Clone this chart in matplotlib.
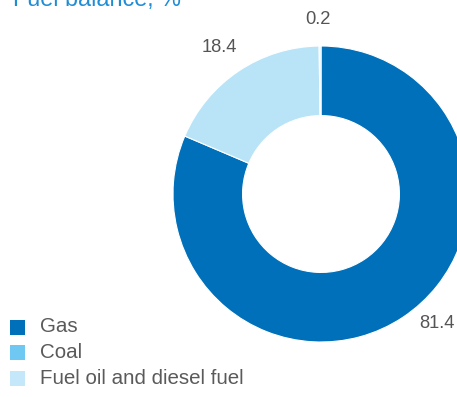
import matplotlib.pyplot as plt
from matplotlib.patches import Rectangle

plt.rcParams['font.family'] = ['Liberation Sans', 'DejaVu Sans']

W, H = 457, 397

fuels = ['Gas', 'Coal', 'Fuel oil and diesel fuel']
shares = [81.4, 18.4, 0.2]
wedge_colors = ['#0070ba', '#b9e4f8', '#dcf1fb']
legend_colors = ['#0070ba', '#6fc8f2', '#c4e7fa']
# label anchor points in axes data units
label_pos = [(0.78, -0.875), (-0.69, 0.988), (-0.02, 1.178)]


def main():
    fig = plt.figure(figsize=(W / 100, H / 100), dpi=100)
    ax = fig.add_axes([173 / W, 55 / H, 296 / W, 296 / H])

    ax.pie(shares, colors=wedge_colors, startangle=90, counterclock=False,
           radius=1, wedgeprops=dict(width=0.47, edgecolor='white', linewidth=0.8))
    ax.set_xlim(-1, 1)
    ax.set_ylim(-1, 1)
    ax.set_aspect('equal')
    ax.axis('off')

    for val, (x, y) in zip(shares, label_pos):
        ax.text(x, y, f'{val:.1f}', ha='center', va='center',
                fontsize=13.2, color='#555555', clip_on=False)

    fig.text(13 / W, 1 - 6 / H, 'Fuel balance, %', fontsize=16.8,
             color='#1f8dd6', ha='left', va='baseline')

    # legend drawn by hand, one row per fuel
    for i, (name, col) in enumerate(zip(fuels, legend_colors)):
        yc = 327 + i * 25.5
        fig.add_artist(Rectangle((10 / W, 1 - (yc + 7.5) / H), 15 / W, 15 / H,
                                 transform=fig.transFigure, color=col, lw=0))
        fig.text(40 / W, 1 - yc / H, name, fontsize=14.8, color='#5a5a5a',
                 ha='left', va='center')

    plt.savefig('out.png', dpi=100)


if __name__ == '__main__':
    main()
